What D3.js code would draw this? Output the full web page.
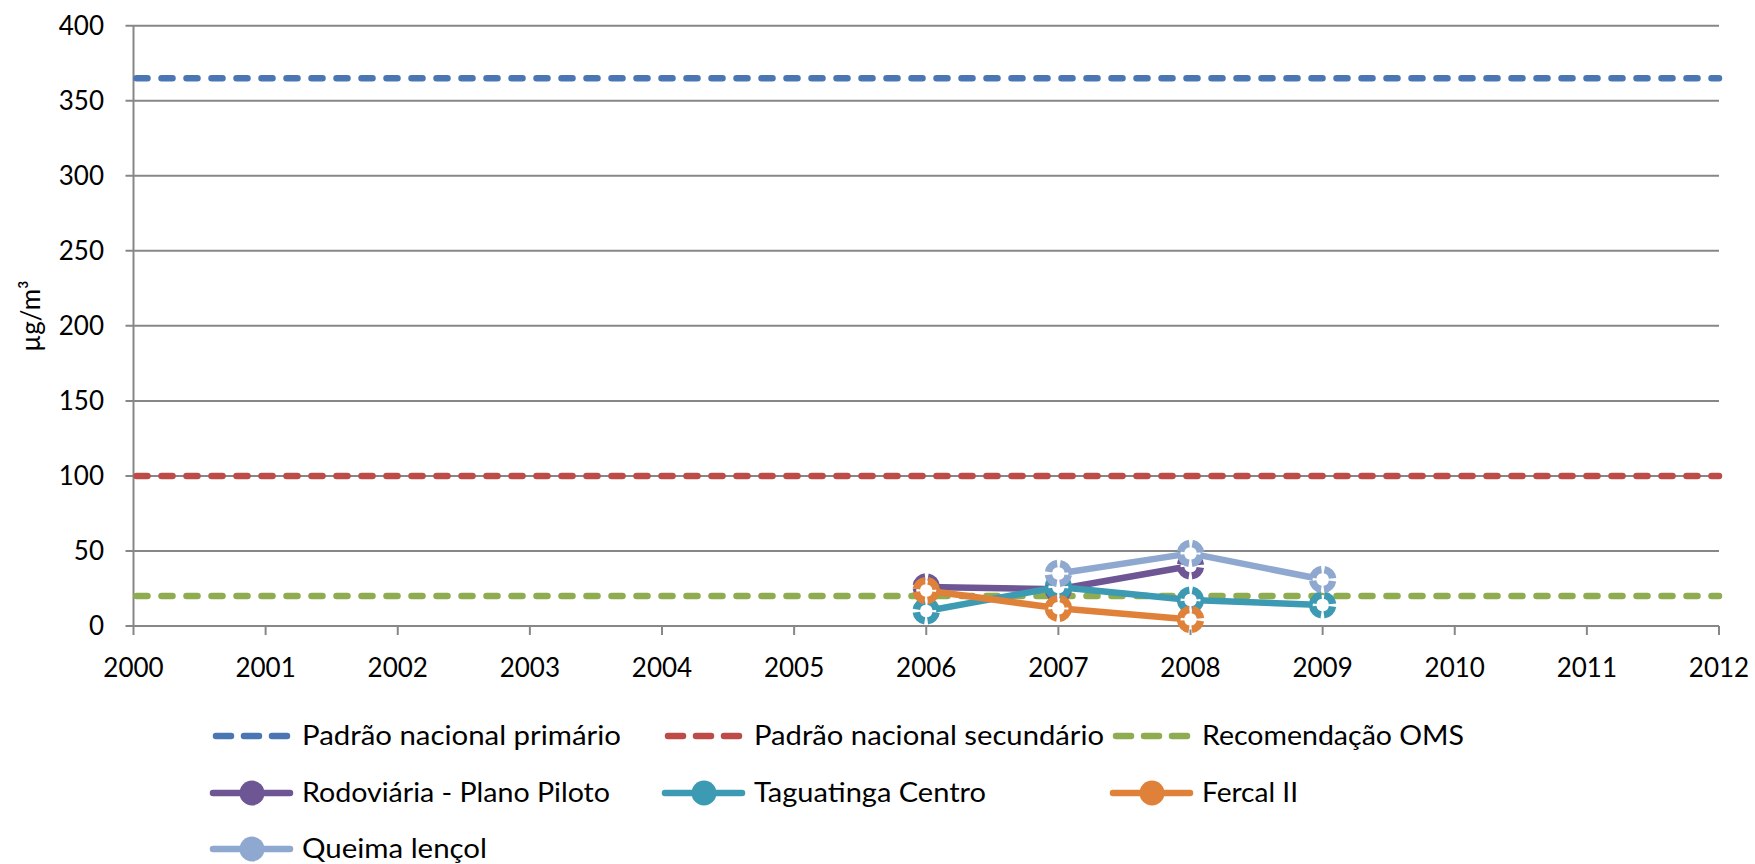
<!DOCTYPE html>
<html>
<head>
<meta charset="utf-8">
<script src="https://cdn.jsdelivr.net/npm/d3@7"></script>
<style>
  html, body { margin: 0; padding: 0; background: #fff; }
  svg { display: block; }
  text { font-family: Lato, "Open Sans", sans-serif; fill: #000; }
</style>
</head>
<body>
<svg id="chart" width="1755" height="864"></svg>
<script>
// ---------- data ----------
const yearTicks = [2000, 2001, 2002, 2003, 2004, 2005, 2006, 2007, 2008, 2009, 2010, 2011, 2012];
const yTicks = [0, 50, 100, 150, 200, 250, 300, 350, 400];
const years = [2006, 2007, 2008, 2009];
const padraoPrimario = 365;
const padraoSecundario = 100;
const recomendacaoOMS = 20;
const rodoviaria = [26, 24.5, 40, null];
const taguatinga = [10, 26, 17.3, 14];
const fercal = [23.6, 11.8, 4.4, null];
const queima = [null, 35, 48.4, 31];
const yTitle = "µg/m³";

const refSeries = [
  { name: "Padrão nacional primário", value: padraoPrimario, color: "#4a76b4" },
  { name: "Padrão nacional secundário", value: padraoSecundario, color: "#bd4c49" },
  { name: "Recomendação OMS", value: recomendacaoOMS, color: "#8fac50" }
];
const dataSeries = [
  { name: "Rodoviária - Plano Piloto", values: rodoviaria, color: "#6e5695" },
  { name: "Taguatinga  Centro", values: taguatinga, color: "#3d9ab3" },
  { name: "Fercal II", values: fercal, color: "#e0813a" },
  { name: "Queima lençol", values: queima, color: "#8fa8cf" }
];

// ---------- layout ----------
const svg = d3.select("#chart");
const plot = { left: 133.5, right: 1719, top: 25.7, bottom: 626 };
const x = d3.scaleLinear().domain([2000, 2012]).range([plot.left, plot.right]);
const y = d3.scaleLinear().domain([0, 400]).range([plot.bottom, plot.top]);
const gridColor = "#878787";

// gridlines
svg.append("g").selectAll("line").data(yTicks).join("line")
  .attr("x1", plot.left - 8).attr("x2", plot.right)
  .attr("y1", d => y(d)).attr("y2", d => y(d))
  .attr("stroke", gridColor).attr("stroke-width", 2);

// y axis line
svg.append("line")
  .attr("x1", plot.left).attr("x2", plot.left)
  .attr("y1", plot.top).attr("y2", plot.bottom)
  .attr("stroke", gridColor).attr("stroke-width", 2);

// x ticks
svg.append("g").selectAll("line").data(yearTicks).join("line")
  .attr("x1", d => x(d)).attr("x2", d => x(d))
  .attr("y1", plot.bottom).attr("y2", plot.bottom + 9)
  .attr("stroke", gridColor).attr("stroke-width", 2);

// y tick labels
svg.append("g").selectAll("text").data(yTicks).join("text")
  .attr("x", 104).attr("y", d => y(d))
  .attr("dy", "0.35em")
  .attr("text-anchor", "end")
  .style("font-size", "26px")
  .text(d => d);

// x tick labels
svg.append("g").selectAll("text").data(yearTicks).join("text")
  .attr("x", d => x(d)).attr("y", 677)
  .attr("text-anchor", "middle")
  .style("font-size", "26px")
  .text(d => d);

// y title
svg.append("text")
  .attr("transform", "translate(40,316) rotate(-90)")
  .attr("text-anchor", "middle")
  .style("font-size", "26px")
  .text(yTitle);

// reference dashed lines
svg.append("g").selectAll("line").data(refSeries).join("line")
  .attr("x1", plot.left + 3).attr("x2", plot.right)
  .attr("y1", d => y(d.value)).attr("y2", d => y(d.value))
  .attr("stroke", d => d.color)
  .attr("stroke-width", 6.5)
  .attr("stroke-linecap", "round")
  .attr("stroke-dasharray", "11,14");

// data series
const line = d3.line()
  .defined(d => d.v !== null)
  .x(d => x(d.year)).y(d => y(d.v));

const circ = 2 * Math.PI * 10;
dataSeries.forEach(s => {
  const pts = years.map((yr, i) => ({ year: yr, v: s.values[i] }));
  const g = svg.append("g");
  g.append("path")
    .datum(pts)
    .attr("d", line)
    .attr("fill", "none")
    .attr("stroke", s.color)
    .attr("stroke-width", 6.5)
    .attr("stroke-linejoin", "round");
  g.selectAll("circle").data(pts.filter(p => p.v !== null)).join("circle")
    .attr("cx", p => x(p.year)).attr("cy", p => y(p.v))
    .attr("r", 10)
    .attr("fill", "#fff")
    .attr("stroke", s.color)
    .attr("stroke-width", 7.5)
    .attr("stroke-dasharray", `${circ / 4 - 3},3`)
    .attr("stroke-dashoffset", circ / 4 - 1.5);
});

// ---------- legend ----------
const legendCols = [212, 664, 1112];
const legendRows = [736, 793, 849];
const legendWidths = {
  "Padrão nacional primário": 319,
  "Padrão nacional secundário": 350,
  "Recomendação OMS": 262,
  "Rodoviária - Plano Piloto": 308,
  "Taguatinga  Centro": 232,
  "Fercal II": 96,
  "Queima lençol": 185
};
const legendItems = refSeries.map(s => ({ ...s, type: "ref" }))
  .concat(dataSeries.map(s => ({ ...s, type: "data" })));

legendItems.forEach((item, i) => {
  const cx = legendCols[i % 3];
  const cy = legendRows[Math.floor(i / 3)];
  const g = svg.append("g");
  if (item.type === "ref") {
    g.append("line")
      .attr("x1", cx + 4).attr("x2", cx + 76)
      .attr("y1", cy).attr("y2", cy)
      .attr("stroke", item.color)
      .attr("stroke-width", 6.5)
      .attr("stroke-linecap", "round")
      .attr("stroke-dasharray", "15,13");
  } else {
    g.append("line")
      .attr("x1", cx + 1).attr("x2", cx + 78)
      .attr("y1", cy).attr("y2", cy)
      .attr("stroke", item.color)
      .attr("stroke-width", 6.5)
      .attr("stroke-linecap", "round");
    g.append("circle")
      .attr("cx", cx + 40).attr("cy", cy)
      .attr("r", 12.5)
      .attr("fill", item.color);
  }
  g.append("text")
    .attr("x", cx + 90).attr("y", cy)
    .attr("dy", "0.36em")
    .attr("textLength", legendWidths[item.name])
    .attr("lengthAdjust", "spacingAndGlyphs")
    .style("font-size", "26px")
    .text(item.name);
});
</script>
</body>
</html>
